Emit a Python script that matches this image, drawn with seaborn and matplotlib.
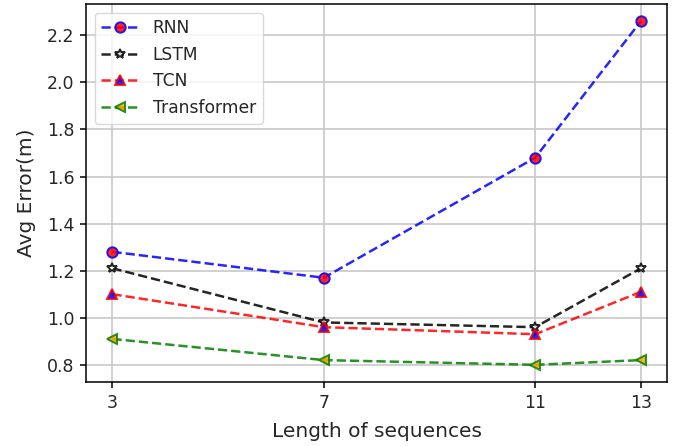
import pandas as pd
import seaborn as sns
import matplotlib
matplotlib.use("Agg")
import matplotlib.pyplot as plt

lengths = [3, 7, 11, 13]
rnn = [1.28, 1.17, 1.68, 2.26]
lstm = [1.21, 0.98, 0.96, 1.21]
tcn = [1.10, 0.96, 0.93, 1.11]
transformer = [0.91, 0.82, 0.80, 0.82]

sns.set_style("ticks", {"axes.grid": True, "grid.color": "#c8c8c8", "axes.edgecolor": "black"})
plt.rcParams['font.family'] = ['DejaVu Sans']

fig, ax = plt.subplots(figsize=(6.83, 4.46), dpi=100)
fig.subplots_adjust(left=0.126, right=0.977, bottom=0.1435, top=0.991)

styles = [
    ("RNN", rnn, "o", "blue", "red", "blue", 7.5),
    ("LSTM", lstm, "*", "black", "white", "black", 7.5),
    ("TCN", tcn, "^", "red", "blue", "red", 7.5),
    ("Transformer", transformer, "<", "green", "orange", "green", 7.5),
]

for name, vals, mk, lc, fc, ec, ms in styles:
    df = pd.DataFrame({"length": lengths, "err": vals})
    sns.lineplot(data=df, x="length", y="err", ax=ax, label=name, color=lc,
                 linestyle="--", marker=mk, markersize=ms,
                 markerfacecolor=fc, markeredgecolor=ec, markeredgewidth=1.4,
                 linewidth=1.8, alpha=0.85)

ax.set_xticks(lengths)
ax.set_xlabel("Length of sequences", fontsize=14.5, labelpad=7)
ax.set_ylabel("Avg Error(m)", fontsize=14.5, labelpad=8)
ax.tick_params(labelsize=12.5, direction="out", length=4.5, width=1.1,
               color="black", labelcolor="#262626", pad=4)
ax.grid(True, color="#c8c8c8", linewidth=1.2)
for s in ax.spines.values():
    s.set_color("black")
    s.set_linewidth(1.1)
leg = ax.legend(loc="upper left", fontsize=12.3, frameon=True, handlelength=2.2)
leg.get_frame().set_edgecolor("#d0d0d0")

fig.savefig("out.png", dpi=100)
